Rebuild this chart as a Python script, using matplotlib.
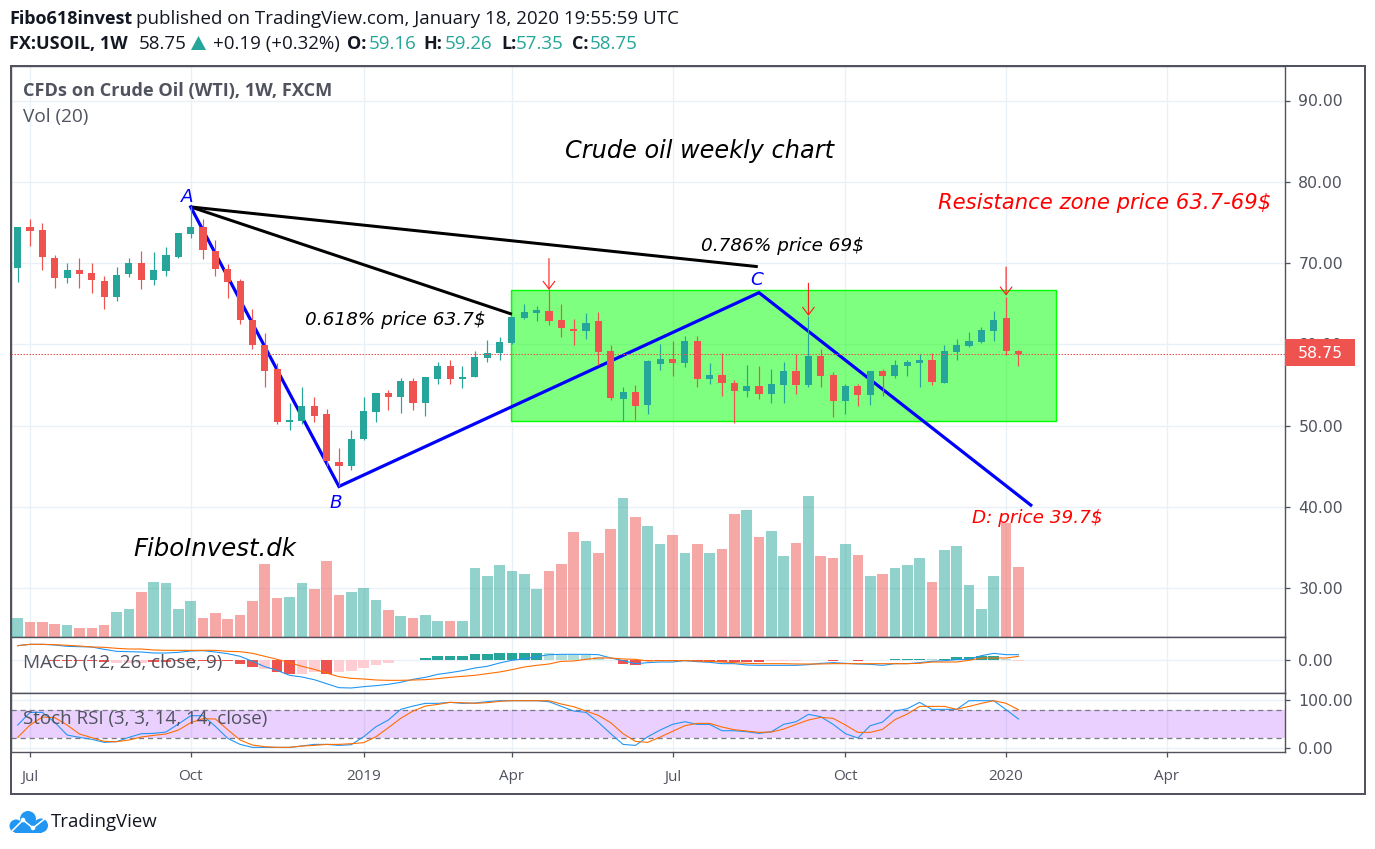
import matplotlib
matplotlib.use('Agg')
import matplotlib.pyplot as plt
from matplotlib.patches import Rectangle, Polygon, Circle

# weekly candles, Jun 2018 - Jan 2020
opens = [69.35,74.47,74.10,70.58,68.12,69.10,68.73,67.83,65.87,68.61,70.05,67.91,68.98,70.78,73.61,74.47,71.52,69.31,67.83,63.00,59.88,56.93,50.41,50.54,52.34,51.40,45.46,45.05,48.32,51.68,53.98,53.53,55.46,52.79,55.74,57.30,55.74,55.91,58.32,58.94,60.13,
         63.27,63.85,64.13,63.03,61.92,61.63,62.82,59.13,53.30,54.16,52.56,57.53,58.23,57.73,60.44,55.72,56.17,55.27,54.21,54.90,53.88,54.94,56.75,54.94,58.55,56.17,52.97,54.90,53.71,56.75,56.05,57.36,57.73,58.02,55.19,59.05,59.78,60.32,61.63,63.19,59.16]
highs = [74.47,75.37,74.88,70.95,70.05,70.58,70.05,68.41,69.47,70.58,71.52,71.36,71.93,73.73,77.05,75.37,72.83,69.88,67.99,64.31,61.36,57.67,52.75,54.76,53.49,52.01,47.22,49.43,53.49,53.98,54.39,55.86,55.82,56.03,57.87,58.08,57.34,59.19,60.50,60.87,63.41,
         64.91,64.71,66.76,64.91,63.07,63.81,63.97,59.87,54.74,54.94,58.02,60.07,60.44,60.97,60.97,57.65,58.96,55.64,57.49,57.32,56.91,57.86,58.84,63.48,59.37,56.58,55.07,55.07,56.75,56.91,58.02,58.02,58.80,58.92,59.87,60.61,61.55,62.08,64.13,65.86,59.26]
lows = [67.71,72.14,69.14,66.97,67.50,66.97,66.28,64.39,65.29,68.24,66.77,67.34,68.41,70.66,73.04,70.46,68.41,65.66,62.55,59.39,54.80,50.13,49.43,50.17,50.37,44.96,42.50,44.47,48.16,50.37,51.85,51.48,51.85,51.11,55.16,55.16,54.60,55.91,57.87,58.12,60.05,
        63.07,62.90,62.33,60.85,59.95,60.69,57.41,53.10,50.55,50.72,51.46,56.83,56.05,57.16,54.78,55.15,53.67,50.35,53.47,53.30,52.81,52.77,53.84,54.78,54.78,51.09,51.46,52.36,52.56,53.67,55.85,56.05,54.78,54.94,55.19,58.06,59.70,60.11,60.44,58.64,57.35]
closes = [74.47,73.98,70.70,68.12,69.10,68.61,67.91,65.87,68.57,70.05,67.87,69.10,70.95,73.73,74.47,71.60,69.23,67.71,62.96,59.96,56.70,50.41,50.66,52.34,51.11,45.62,45.05,48.28,51.77,53.98,53.53,55.46,52.79,56.03,57.30,55.74,56.03,58.41,58.98,60.25,63.41,
          63.93,64.17,62.90,62.00,61.63,62.66,59.05,53.34,54.16,52.40,57.90,58.23,57.73,60.44,55.72,56.17,55.19,54.21,54.90,53.88,55.07,56.75,54.94,58.55,56.05,52.97,54.90,53.71,56.75,56.05,57.49,57.86,58.02,55.31,59.13,59.87,60.44,61.71,63.03,59.21,58.75]
# volume scale is hidden on the chart, so arbitrary units
volume = [19,14.7,14.7,13,11.7,8.7,8.7,11.7,25,28,44.7,55,53.7,28,35.7,19,23.7,17.7,22,35.7,73,38.7,40,53.7,47.7,76,41.7,44.7,49,37,26.7,20.7,19,22,16,16,16,68.7,61,71.7,65.7,
          62.7,47.7,65.7,73,104.7,95.7,83.7,107.7,139,119.7,110.7,92.7,101.7,83.7,92.7,83.7,88,122.7,127,100,106,80.7,94,140.7,80.7,79,92.7,82,61,62.7,68.7,71.7,79,55,86.7,91,52,28,61,113.7,70]

macd_line = [43,47,47,45,41,40,39,32,26,25,24,21,21,23,27,28,24,19,11,-4,-20,-31,-46,-51,-59,-71,-83,-84,-80,-77,-73,-67,-58,-52,-43,-38,-32,-24,-19,-9,-1,
             4,10,16,17,17,17,16,6,-2,-11,-8,-6,-6,-2,-5,-7,-11,-11,-15,-16,-16,-16,-16,-14,-10,-8,-10,-12,-13,-16,-11,-11,-8,-4,-2,1,2,13,20,16,16]
macd_signal = [43,47,47,46,44,42,39,38,35,33,33,30,29,29,29,29,29,26,25,20,11,2,-8,-19,-28,-39,-50,-55,-57,-60,-61,-61,-60,-59,-56,-52,-49,-46,-41,-36,-29,
               -21,-16,-12,-4,-3,2,6,6,3,2,-3,-2,-2,-2,-3,-4,-6,-8,-10,-11,-11,-11,-12,-12,-12,-11,-11,-11,-11,-11,-11,-11,-10,-6,-6,-6,-1,6,6,6,11]
macd_hist = [0,0,0,-3,-3,-3,-4,-5,-8,-8,-8,-5,-5,-4,-3,-3,-3,-4,-13,-22,-28,-36,-41,-41,-36,-41,-36,-32,-23,-14,-9,0,0,7,13,13,13,19,19,22,22,
             22,22,22,14,14,14,8,0,-11,-14,-3,-3,-2,-2,-5,-5,-6,-7,-7,-7,-4,-4,-4,0,0,-4,0,-4,0,0,4,4,4,3,4,8,8,11,13,3,-2]
macd_light = [8,9,10,20,23,24,26,27,28,29,30,43,44,45,46,47,61,62,63,74,80,81]

stoch_k = [47.9,74.6,74.6,53.5,26.8,21.8,17.6,11.3,12.7,21.8,29.6,30.3,33.1,50,67.6,67.6,45.1,19.7,7,0.7,0.7,0.7,0.7,3.5,7,7,4.9,6.3,23.2,44.4,58.5,81,88,93.7,93.7,95.8,93.7,94.4,97.2,99.3,99.3,
           99.3,99.3,97.2,87.3,77.5,74.6,53.5,29.6,7,4.9,23.2,37.3,49.3,54.9,49.3,49.3,35.9,35.9,33.8,30.3,33.8,49.3,54.9,70.4,65.5,49.3,29.6,20.4,46.5,54.2,77.5,82.4,95.8,81,81,81,99.3,99.3,99.3,80.3,60.6]
stoch_d = [21.8,47.9,64.8,63.4,47.9,28.9,21.1,13.4,12.7,16.2,22.5,26.1,28.9,37.3,52.8,61.3,60.6,38,16.2,5.6,2.1,0.7,0.7,3.5,4.9,7,7,8.5,10.6,23.2,42.3,62,77.5,88,91.5,95.8,95.1,93.7,95.1,97.9,99.3,
           99.3,99.3,99.3,92.3,86.6,77.5,68.3,52.8,29.6,13.4,11.3,22.5,34.5,46.5,51.4,51.4,43.7,38,35.2,32.4,33.1,39.4,49.3,58.5,64.1,62,47.9,32.4,32.4,38.7,59.2,71.1,87.3,87.3,87.3,81,87.3,93.7,99.3,93.7,80.3]

price_ticks = [30, 40, 50, 60, 70, 80, 90]
time_ticks = [1, 14, 28, 40, 53, 67, 80, 93]
time_labels = ['Jul', 'Oct', '2019', 'Apr', 'Jul', 'Oct', '2020', 'Apr']
last_price = 58.75

# drawings on the chart
abcd_x = [14, 26, 60, 82]
abcd_y = [76.9, 42.5, 66.35, 40.2]
fib_x = [[14, 40], [14, 59.9]]
fib_y = [[76.9, 63.7], [76.9, 69.55]]
zone_x = [39.9, 84.0]
zone_y = [50.6, 66.7]
arrow_x = [43, 64, 80]
arrow_top = [70.55, 67.5, 69.5]
arrow_tip = [66.7, 63.5, 66.0]

W, H = 1375, 849
RED = '#ef5350'
GREEN = '#26a69a'
FRAME = '#50535e'
GRID = '#e9f0f6'
BLUE_LINE = '#2196f3'
ORANGE_LINE = '#ff6d00'
HEADER_FONT = 'Open Sans'
PX = 72 / 100  # one pixel in points at 100 dpi

# pixel positions of the panes
LEFT, RIGHT = 10.5, 1285
BAR0, BAR_STEP = 17.7, 12.355
XLIM = ((LEFT - BAR0) / BAR_STEP, (RIGHT - BAR0) / BAR_STEP)


def pane(fig, top, bottom):
    ax = fig.add_axes([LEFT / W, 1 - bottom / H, (RIGHT - LEFT) / W, (bottom - top) / H])
    ax.set_xlim(*XLIM)
    ax.set_xticks(time_ticks)
    ax.grid(True, color=GRID, lw=1.3 * PX)
    ax.set_axisbelow(True)
    ax.yaxis.tick_right()
    ax.tick_params(axis='x', length=0, labelbottom=False)
    ax.tick_params(axis='y', length=5 * PX, width=1.3 * PX, color=FRAME, labelcolor=FRAME,
                   labelsize=11.3, pad=6)
    for s in ax.spines.values():
        s.set_color(FRAME)
        s.set_linewidth(1.4 * PX)
    return ax


def text_px(fig, x, y, s, **kw):
    kw.setdefault('va', 'center')
    return fig.text(x / W, 1 - y / H, s, **kw)


def plot_price(fig):
    ax = pane(fig, 66, 637)
    # 30 sits at y=588, 8.125 px per dollar
    ax.set_ylim(30 - (637 - 588) / 8.125, 30 + (588 - 66) / 8.125)
    ax.set_yticks(price_ticks)
    ax.set_yticklabels(['%.2f' % p for p in price_ticks])

    ax.add_patch(Rectangle((zone_x[0], zone_y[0]), zone_x[1] - zone_x[0], zone_y[1] - zone_y[0],
                           facecolor='#00ff00', alpha=0.5, edgecolor='none', zorder=1.5))
    ax.add_patch(Rectangle((zone_x[0], zone_y[0]), zone_x[1] - zone_x[0], zone_y[1] - zone_y[0],
                           fill=False, edgecolor='#00ff00', lw=1.4 * PX, zorder=1.6))

    for fx, fy in zip(fib_x, fib_y):
        ax.plot(fx, fy, color='black', lw=3 * PX, solid_capstyle='butt', zorder=2)
    ax.plot(abcd_x, abcd_y, color='#0000ff', lw=3.2 * PX, solid_joinstyle='miter', zorder=2)

    idx = range(len(closes))
    colors = [GREEN if c >= o else RED for o, c in zip(opens, closes)]
    ax.vlines(idx, lows, highs, colors=colors, lw=1.2 * PX, zorder=3)
    ax.bar(idx, [abs(c - o) for o, c in zip(opens, closes)], bottom=[min(o, c) for o, c in zip(opens, closes)],
           width=0.58, color=colors, zorder=3.1)

    ax.axhline(last_price, color=RED, lw=1 * PX, ls=(0, (1.5, 1.5)), zorder=3.5)

    for x, top, tip in zip(arrow_x, arrow_top, arrow_tip):
        ax.annotate('', xy=(x, tip), xytext=(x, top), zorder=4,
                    arrowprops=dict(arrowstyle='->,head_length=0.55,head_width=0.42', color='#ff1a1a',
                                    lw=1.1 * PX, shrinkA=0, shrinkB=0))

    # volume overlay, one unit is one pixel
    vol = ax.twinx()
    vol.set_ylim(0, 637 - 66)
    vol.set_zorder(ax.get_zorder() + 1)
    vol.patch.set_visible(False)
    vol.axis('off')
    vol.bar(idx, volume, width=0.86, color=colors, alpha=0.5)
    # twinx moves the price ticks to the left
    ax.yaxis.tick_right()

    # last price tag covers the 60.00 label
    tag = Rectangle((RIGHT / W, 1 - 366 / H), 70 / W, 27 / H, transform=fig.transFigure,
                    facecolor=RED, edgecolor='none', zorder=5)
    fig.add_artist(tag)
    text_px(fig, 1298, 353, '%.2f' % last_price, color='white', fontsize=11.3, zorder=6)
    return ax


def plot_macd(fig):
    ax = pane(fig, 637, 693)
    # one unit is a third of a pixel, zero sits at y=660
    ax.set_ylim(-(693 - 660) * 3, (660 - 637) * 3)
    ax.set_yticks([0])
    ax.set_yticklabels(['0.00'])
    idx = range(len(macd_hist))
    colors = []
    for i, h in enumerate(macd_hist):
        if h >= 0:
            colors.append('#b2dfdb' if i in macd_light else GREEN)
        else:
            colors.append('#ffcdd2' if i in macd_light else RED)
    ax.bar(idx, macd_hist, width=0.86, color=colors, zorder=2)
    ax.plot(idx, macd_line, color=BLUE_LINE, lw=1.1 * PX, zorder=3)
    ax.plot(idx, macd_signal, color=ORANGE_LINE, lw=1.1 * PX, zorder=3)
    return ax


def plot_stoch(fig):
    ax = pane(fig, 693, 752)
    ax.set_ylim(-(752 - 747.7) / 0.4733, (747.7 - 693) / 0.4733)
    ax.set_yticks([0, 100])
    ax.set_yticklabels(['0.00', '100.00'])
    ax.axhspan(20, 80, color='#9915ff', alpha=0.2, lw=0, zorder=1)
    for level in (20, 80):
        ax.axhline(level, color='#787b86', lw=1.3 * PX, ls=(0, (4, 3)), zorder=2)
    idx = range(len(stoch_k))
    ax.plot(idx, stoch_k, color=BLUE_LINE, lw=1.1 * PX, zorder=3)
    ax.plot(idx, stoch_d, color=ORANGE_LINE, lw=1.1 * PX, zorder=3)
    ax.tick_params(axis='x', length=5 * PX, width=1.3 * PX, color=FRAME, labelcolor=FRAME,
                   labelbottom=True, labelsize=11, pad=9)
    ax.set_xticklabels(time_labels, fontfamily=HEADER_FONT)
    return ax


def add_header(fig):
    bold = dict(fontfamily=HEADER_FONT, fontweight='bold', fontsize=13, color='#131722')
    normal = dict(fontfamily=HEADER_FONT, fontsize=13.5, color='#131722')
    teal = dict(fontfamily=HEADER_FONT, fontsize=13.5, color=GREEN)
    text_px(fig, 9, 19, 'Fibo618invest', **bold)
    text_px(fig, 136, 19, 'published on TradingView.com, January 18, 2020 19:55:59 UTC', **normal)
    text_px(fig, 9, 44, 'FX:USOIL, 1W', **bold)
    text_px(fig, 139, 44, '58.75', **normal)
    fig.add_artist(Polygon([(191 / W, 1 - 50 / H), (206 / W, 1 - 50 / H), (198.5 / W, 1 - 36 / H)],
                           transform=fig.transFigure, facecolor=GREEN, edgecolor='none'))
    text_px(fig, 213, 44, '+0.19 (+0.32%)', **normal)
    for x, s in zip([347, 423, 501, 572], ['O:', 'H:', 'L:', 'C:']):
        text_px(fig, x, 44, s, **bold)
    for x, s in zip([369, 445, 516, 590], ['59.16', '59.26', '57.35', '58.75']):
        text_px(fig, x, 44, s, **teal)


def add_logo(fig):
    # small pane in pixel units for the TradingView cloud
    ax = fig.add_axes([9 / W, 1 - 834 / H, 40 / W, 24 / H])
    ax.set_xlim(9, 49)
    ax.set_ylim(834, 810)
    ax.axis('off')
    blue = '#2196f3'
    for x, y, r in [(16, 826, 6.5), (28, 819, 8), (41, 825.5, 7)]:
        ax.add_patch(Circle((x, y), r, facecolor=blue, edgecolor='none'))
    ax.add_patch(Rectangle((15, 822), 27, 10.5, facecolor=blue, edgecolor='none'))
    ax.plot([11, 23, 33, 47], [832, 820, 828, 817], color='white', lw=1.6 * PX)
    for x, y in [(23, 820), (33, 828)]:
        ax.add_patch(Circle((x, y), 2.3, facecolor='white', edgecolor='none'))


def add_labels(fig):
    grey = dict(fontfamily=HEADER_FONT, color=FRAME)
    text_px(fig, 23, 91, 'CFDs on Crude Oil (WTI), 1W, FXCM', fontweight='bold', fontsize=13.1, **grey)
    text_px(fig, 23, 117, 'Vol (20)', fontsize=13.7, **grey)
    text_px(fig, 23, 663, 'MACD (12, 26, close, 9)', fontsize=13.7, **grey)
    text_px(fig, 23, 719, 'Stoch RSI (3, 3, 14, 14, close)', fontsize=13.5, **grey)

    italic = dict(style='italic')
    text_px(fig, 565, 151, 'Crude oil weekly chart', fontsize=17.3, color='black', **italic)
    text_px(fig, 938, 203, 'Resistance zone price 63.7-69$', fontsize=15.2, color='#ff0000', **italic)
    text_px(fig, 701, 246, '0.786% price 69$', fontsize=13.2, color='black', **italic)
    text_px(fig, 305, 320, '0.618% price 63.7$', fontsize=13.2, color='black', **italic)
    text_px(fig, 133, 549, 'FiboInvest.dk', fontsize=17.6, color='black', **italic)
    text_px(fig, 972, 518, 'D: price 39.7$', fontsize=13.2, color='#ff0000', **italic)
    text_px(fig, 181, 197, 'A', fontsize=13.2, color='#0000ff', **italic)
    text_px(fig, 330, 503, 'B', fontsize=13.2, color='#0000ff', **italic)
    text_px(fig, 750, 280, 'C', fontsize=13.2, color='#0000ff', **italic)
    text_px(fig, 51, 822, 'TradingView', fontfamily=HEADER_FONT, fontsize=13.4, color='#131722')


if __name__ == "__main__":
    fig = plt.figure(figsize=(W / 100, H / 100), dpi=100)
    plot_price(fig)
    plot_macd(fig)
    plot_stoch(fig)
    # outer frame goes down to y=794 under the time axis
    fig.add_artist(Rectangle((LEFT / W, 1 - 794 / H), (1365 - LEFT) / W, (794 - 66) / H, transform=fig.transFigure,
                             fill=False, edgecolor=FRAME, lw=2 * PX))
    add_header(fig)
    add_labels(fig)
    add_logo(fig)
    fig.savefig('out.png', dpi=100)
